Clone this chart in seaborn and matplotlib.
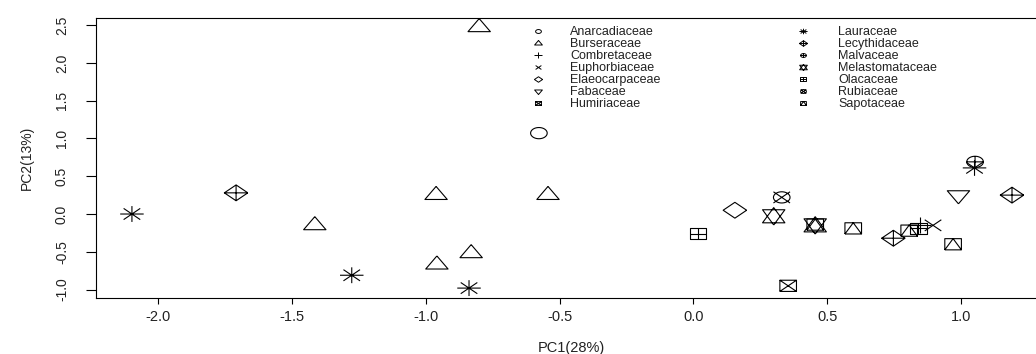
import numpy as np
import pandas as pd
import matplotlib
matplotlib.use('Agg')
import matplotlib.pyplot as plt
from matplotlib.path import Path
from matplotlib.lines import Line2D
import seaborn as sns

# --- data ---
families = ['Anarcadiaceae', 'Burseraceae', 'Combretaceae', 'Euphorbiaceae',
            'Elaeocarpaceae', 'Fabaceae', 'Humiriaceae', 'Lauraceae',
            'Lecythidaceae', 'Malvaceae', 'Melastomataceae', 'Olacaceae',
            'Rubiaceae', 'Sapotaceae']

pc1 = [-0.577,
       -0.80, -1.414, -0.961, -0.543, -0.83, -0.958,
       0.845,
       0.895,
       0.155,
       0.99,
       0.354,
       -2.097, -1.276, -0.838, 1.05,
       -1.708, 0.747, 1.19,
       1.052,
       0.30, 0.455,
       0.017, 0.84,
       0.33,
       0.455, 0.597, 0.806, 0.97]
pc2 = [1.07,
       2.47, -0.15, 0.25, 0.25, -0.52, -0.67,
       -0.15,
       -0.15,
       0.05,
       0.25,
       -0.95,
       0.0, -0.81, -0.98, 0.61,
       0.28, -0.32, 0.25,
       0.69,
       -0.03, -0.15,
       -0.26, -0.19,
       0.22,
       -0.14, -0.19, -0.22, -0.40]
family = (['Anarcadiaceae'] + ['Burseraceae'] * 6 + ['Combretaceae'] +
          ['Euphorbiaceae'] + ['Elaeocarpaceae'] + ['Fabaceae'] +
          ['Humiriaceae'] + ['Lauraceae'] * 4 + ['Lecythidaceae'] * 3 +
          ['Malvaceae'] + ['Melastomataceae'] * 2 + ['Olacaceae'] * 2 +
          ['Rubiaceae'] + ['Sapotaceae'] * 4)

x_ticks = [-2.0, -1.5, -1.0, -0.5, 0.0, 0.5, 1.0]
y_ticks = [-1.0, -0.5, 0.0, 0.5, 1.0, 1.5, 2.0, 2.5]

df = pd.DataFrame({'PC1': pc1, 'PC2': pc2, 'family': family})

# --- R-like pch symbols (1..14) built as paths ---
HX, VY, ANCHOR = 8.3, 5.6, 20.0   # px per unit (picture is stretched sideways)


def circle(r=1.0):
    t = np.linspace(0, 2 * np.pi, 49)
    return [(list(zip(r * np.cos(t), r * np.sin(t))), True)]


def square(s=1.0):
    return [([(-s, -s), (s, -s), (s, s), (-s, s)], True)]


def plus(L):
    return [([(-L, 0), (L, 0)], False), ([(0, -L), (0, L)], False)]


def cross(L):
    return [([(-L, -L), (L, L)], False), ([(-L, L), (L, -L)], False)]


def diamond(L):
    return [([(L, 0), (0, L), (-L, 0), (0, -L)], True)]


TRC0 = np.sqrt(4 * np.pi / (3 * np.sqrt(3)))
TRC1 = TRC0 * np.sqrt(3) / 2
TRC2 = TRC0 / 2
tri_up = [([(0, TRC0), (TRC1, -TRC2), (-TRC1, -TRC2)], True)]
tri_dn = [([(0, -TRC0), (TRC1, TRC2), (-TRC1, TRC2)], True)]
yc11 = 0.5 * (TRC2 + TRC0)
star = [([(0, -TRC0), (TRC1, yc11), (-TRC1, yc11)], True),
        ([(0, TRC0), (TRC1, -yc11), (-TRC1, -yc11)], True)]
S2 = np.sqrt(2)

shapes = {
    'Anarcadiaceae': circle(),
    'Burseraceae': tri_up,
    'Combretaceae': plus(S2),
    'Euphorbiaceae': cross(1),
    'Elaeocarpaceae': diamond(S2),
    'Fabaceae': tri_dn,
    'Humiriaceae': square() + cross(1),
    'Lauraceae': cross(1) + plus(S2),
    'Lecythidaceae': diamond(S2) + plus(S2),
    'Malvaceae': circle() + plus(1),
    'Melastomataceae': star,
    'Olacaceae': square() + plus(1),
    'Rubiaceae': circle() + cross(1),
    'Sapotaceae': square() + [([(-1, -1), (0, 1), (1, -1)], False)],
}


def to_path(parts):
    verts = [(ANCHOR, 0.0), (-ANCHOR, 0.0)]
    codes = [Path.MOVETO, Path.MOVETO]
    for pts, closed in parts:
        pts = [(px * HX, py * VY) for px, py in pts]
        if closed:
            pts = pts + [pts[0]]
        verts += pts
        codes += [Path.MOVETO] + [Path.LINETO] * (len(pts) - 1)
    return Path(verts, codes)


markers = {f: to_path(shapes[f]) for f in families}

# --- figure ---
sns.set_theme(style='ticks')
plt.rcParams['font.family'] = ['Liberation Sans', 'DejaVu Sans']

W, H, DPI = 1036, 354, 100
fig = plt.figure(figsize=(W / DPI, H / DPI), dpi=DPI)
# plot box: left 96px, top 18px, bottom 298px, right edge off the picture
ax = fig.add_axes([96 / W, (H - 298) / H, (1047 - 96) / W, 280 / H])

size_pt = 2 * ANCHOR * 72 / DPI
sns.scatterplot(data=df, x='PC1', y='PC2', style='family', style_order=families,
                markers=markers, s=size_pt ** 2, facecolor='none',
                edgecolor='black', linewidth=0.8, legend=False, ax=ax)
coll = ax.collections[0]
coll.set_facecolor('none')
coll.set_edgecolor('black')
coll.set_linewidth(0.8)

ax.set_xlim(-2.2312, 1.3207)
ax.set_ylim(-1.111, 2.593)
ax.set_xticks(x_ticks)
ax.set_xticklabels([f'{v:.1f}' for v in x_ticks])
ax.set_yticks(y_ticks)
ax.set_yticklabels([f'{v:.1f}' for v in y_ticks], rotation=90, va='center')

for sp in ax.spines.values():
    sp.set_color('black')
    sp.set_linewidth(0.8)
ax.tick_params(axis='x', length=4.3, width=0.8, pad=4, labelsize=10.5,
               colors='black', labelcolor='#222222')
ax.tick_params(axis='y', length=7.5, width=0.8, pad=12, labelsize=10,
               colors='black', labelcolor='#222222')

ax.set_xlabel('PC1(28%)', fontsize=10.5, color='#222222')
ax.set_ylabel('PC2(13%)', fontsize=10, color='#222222')
ax.xaxis.set_label_coords(0.5, -0.152)
ax.yaxis.set_label_coords(-0.0652, 0.5)

# --- legend in two columns, no box ---
fs_leg = 9


def make_handles(names):
    return [Line2D([], [], marker=markers[n], linestyle='none',
                   markerfacecolor='none', markeredgecolor='black',
                   markeredgewidth=0.7, markersize=10) for n in names]


col1, col2 = families[:7], families[7:]
hl = 1.0
common = dict(loc='upper left', frameon=False, fontsize=fs_leg,
              handlelength=hl, borderpad=0, borderaxespad=0,
              labelspacing=0.0, bbox_transform=fig.transFigure)
fs_px = fs_leg * DPI / 72
top = 1 - 26 / H
leg1 = ax.legend(make_handles(col1), col1,
                 bbox_to_anchor=((538 - hl * fs_px / 2) / W, top),
                 handletextpad=(570 - 538 - hl * fs_px / 2) / fs_px, **common)
ax.add_artist(leg1)
leg2 = ax.legend(make_handles(col2), col2,
                 bbox_to_anchor=((803 - hl * fs_px / 2) / W, top),
                 handletextpad=(838 - 803 - hl * fs_px / 2) / fs_px, **common)
for lg in (leg1, leg2):
    for t in lg.get_texts():
        t.set_color('#222222')

fig.savefig('out.png', dpi=DPI)
